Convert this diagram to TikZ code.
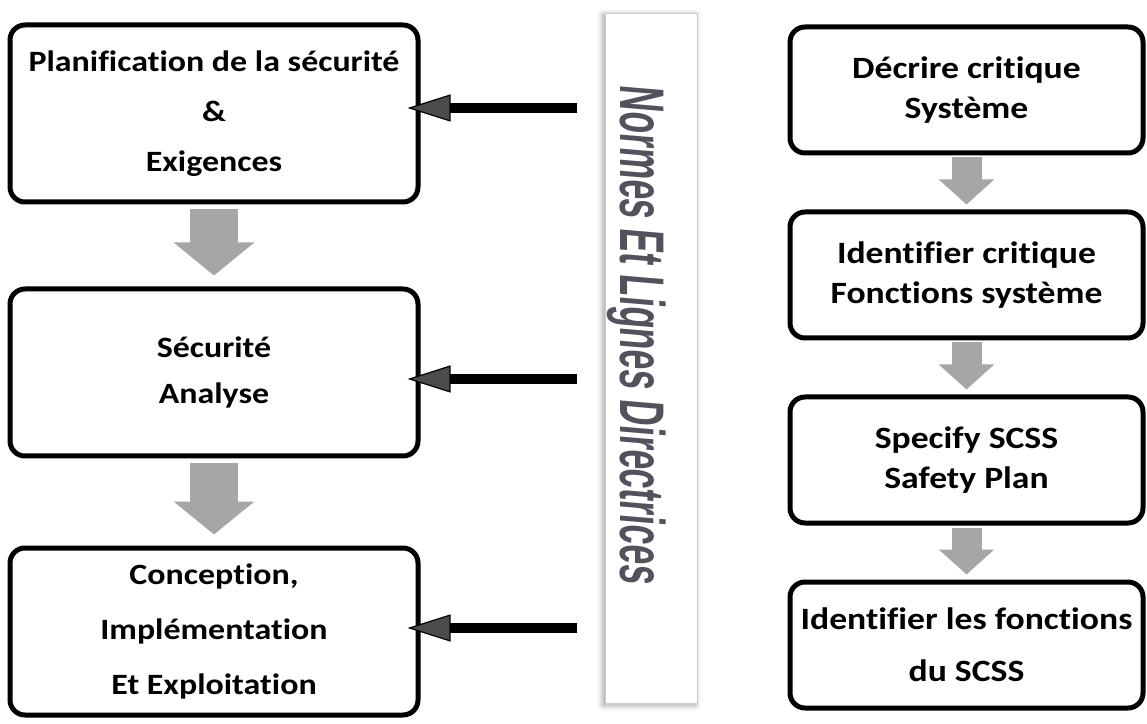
\documentclass[tikz,border=0pt]{standalone}
\usepackage{fontspec}
\setmainfont{Carlito}[FakeStretch=1.15, Ligatures=NoCommon]
\newfontfamily\normesfont[FakeSlant=0.15]{Liberation Sans}
\usepackage{tikz}
\usetikzlibrary{shapes,arrows.meta,shadows.blur}
\definecolor{flechegris}{RGB}{166,166,166}
\definecolor{normesgris}{RGB}{82,82,92}
\tikzstyle{etape} = [rectangle, rounded corners=15pt, line width=5pt, minimum width=408pt, minimum height=167pt, align=center, draw=black, font=\bfseries\fontsize{29.5}{50}\selectfont]
\tikzstyle{etapeD} = [rectangle, rounded corners=15pt, line width=5pt, minimum width=353pt, minimum height=126pt, align=center, draw=black, font=\bfseries\fontsize{31}{40}\selectfont]
\tikzstyle{bande} = [rectangle, minimum width=92pt, minimum height=690pt, draw=gray!40, fill=white, blur shadow={shadow xshift=-2pt, shadow yshift=-2pt, shadow blur radius=6pt}]
\tikzstyle{fleche} = [line width=48pt, flechegris, -{Triangle[length=33pt,width=79pt]}, shorten <=5pt, shorten >=11pt]
\tikzstyle{flecheD} = [line width=30pt, flechegris, -{Triangle[length=25pt,width=54pt]}, shorten <=2pt, shorten >=5pt]
\tikzstyle{arrow} = [line width=10pt, -{Triangle[length=43pt,width=27pt,line width=1.2pt,fill=black!70]}, shorten <=28pt, shorten >=-13pt]

\begin{document}
\begin{tikzpicture}[node distance=259pt]
    \useasboundingbox (0,0) rectangle (1147pt,723pt);
    % colonne de gauche
    \node (plan) [etape, minimum height=177pt] at (214pt,609.5pt) {Planification de la sécurité\\ \&\\ Exigences};
    \node (analyse) [etape, below of=plan, font=\bfseries\fontsize{29.5}{46}\selectfont] {Sécurité\\ Analyse};
    \node (concep) [etape, below of=analyse, font=\bfseries\fontsize{29.5}{55}\selectfont] {Conception,\\ Implémentation\\ Et Exploitation};
    \draw [fleche] (plan) -- (analyse);
    \draw [fleche] (analyse) -- (concep);
    % bande du milieu
    \node (normes) [bande] at (651pt,365pt) {};
    \node (titre) [rotate=-90, anchor=base, text=normesgris, font=\normesfont\bfseries\fontsize{63}{63}\selectfont] at (620pt,389pt) {\scalebox{0.567}[1]{Normes Et Lignes Directrices}};
    \coordinate (n1) at ([yshift=5.5pt]plan.east);
    \coordinate (n2) at ([yshift=-6.5pt]analyse.east);
    \coordinate (n3) at ([yshift=3.5pt]concep.east);
    \draw [arrow] (normes.west |- n1) -- (n1);
    \draw [arrow] (normes.west |- n2) -- (n2);
    \draw [arrow] (normes.west |- n3) -- (n3);
    % colonne de droite
    \node (decrire) [etapeD] at (966.5pt,633pt) {Décrire critique\\ Système};
    \node (identif) [etapeD, node distance=185pt, below of=decrire] {Identifier critique\\ Fonctions système};
    \node (specif) [etapeD, node distance=185pt, below of=identif] {Specify SCSS\\ Safety Plan};
    \node (fonct) [etapeD, node distance=185pt, below of=specif, font=\bfseries\fontsize{31}{52}\selectfont] {Identifier les fonctions\\ du SCSS};
    \draw [flecheD] (decrire) -- (identif);
    \draw [flecheD] (identif) -- (specif);
    \draw [flecheD] (specif) -- (fonct);
\end{tikzpicture}
\end{document}
